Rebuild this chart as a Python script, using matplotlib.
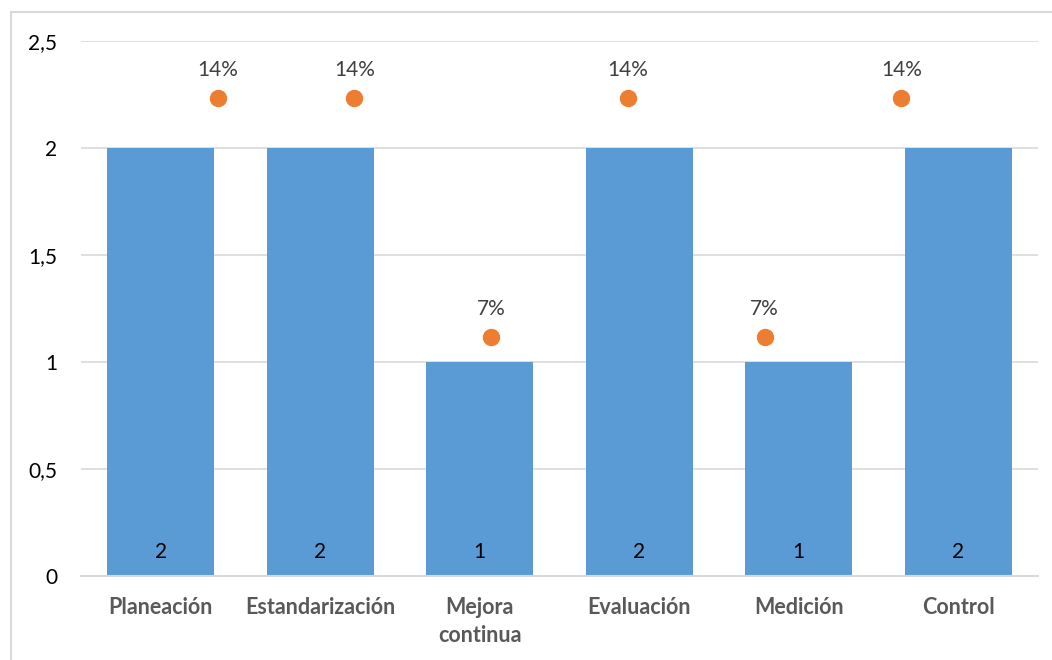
import matplotlib
matplotlib.use("Agg")
import matplotlib.pyplot as plt
from matplotlib.lines import Line2D

categories = ["Planeación", "Estandarización", "Mejora\ncontinua",
              "Evaluación", "Medición", "Control"]
counts = [2, 2, 1, 2, 1, 2]
shares = [2 / 14, 2 / 14, 1 / 14, 2 / 14, 1 / 14, 2 / 14]
share_labels = ["14%", "14%", "7%", "14%", "7%", "14%"]
y_ticks = [0, 0.5, 1, 1.5, 2, 2.5]
y_tick_labels = ["0", "0,5", "1", "1,5", "2", "2,5"]

plt.rcParams["font.family"] = ["Lato", "DejaVu Sans"]

W, H = 1052, 660
fig = plt.figure(figsize=(W / 100, H / 100), dpi=100)
left, right, top, bottom = 81, 1038, 41, 576
rect = [left / W, 1 - bottom / H, (right - left) / W, (bottom - top) / H]
ax = fig.add_axes(rect)

bar_color = "#5B9BD5"
dot_color = "#ED7D31"
grid_color = "#D9D9D9"

x = list(range(len(categories)))
ax.bar(x, counts, width=0.67, color=bar_color, zorder=2)
ax.set_xlim(-0.5, len(categories) - 0.5)
ax.set_ylim(0, 2.5)
ax.set_yticks(y_ticks)
ax.set_yticklabels(y_tick_labels, fontsize=15, color="#000000")
ax.set_xticks(x)
ax.set_xticklabels(categories, fontsize=15.5, fontweight="bold", color="#595959",
                   linespacing=1.4, va="top")
ax.tick_params(axis="both", length=0)
ax.tick_params(axis="x", pad=15)
ax.tick_params(axis="y", pad=17)
ax.yaxis.grid(True, color=grid_color, linewidth=1.2, zorder=0)
ax.set_axisbelow(True)
for s in ["top", "right", "left"]:
    ax.spines[s].set_visible(False)
ax.spines["bottom"].set_color(grid_color)
ax.spines["bottom"].set_linewidth(1.5)

for xi, v in zip(x, counts):
    ax.annotate(str(v), (xi, 0), xytext=(0, 10), textcoords="offset points",
                ha="center", va="bottom", fontsize=15, color="#000000", zorder=3)

# percentage series on its own hidden axes
ax2 = fig.add_axes(rect, facecolor="none")
ax2.set_ylim(0, 0.16)
ax2.set_xlim(0, len(shares) + 1)
ax2.axis("off")
xs = list(range(1, len(shares) + 1))
ax2.plot(xs, shares, linestyle="none", marker="o", markersize=11.5,
         color=dot_color, zorder=4)
for xi, v, lab in zip(xs, shares, share_labels):
    ax2.annotate(lab, (xi, v), xytext=(0, 13), textcoords="offset points",
                 ha="center", va="bottom", fontsize=15, color="#404040")

# chart frame (left and top edges)
fig.add_artist(Line2D([11 / W, 11 / W], [0, 1 - 12 / H], transform=fig.transFigure,
                      color=grid_color, linewidth=1.5))
fig.add_artist(Line2D([11 / W, 1], [1 - 12 / H, 1 - 12 / H], transform=fig.transFigure,
                      color=grid_color, linewidth=1.5))

fig.savefig("out.png", dpi=100, facecolor="white")
